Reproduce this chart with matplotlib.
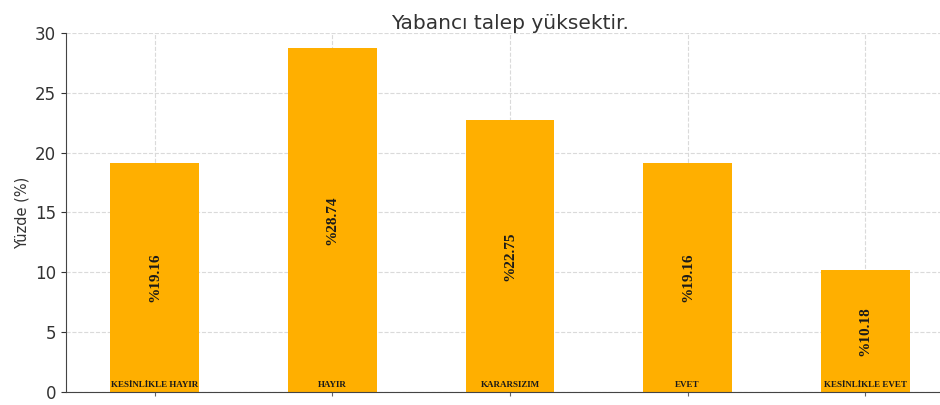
import matplotlib.pyplot as plt

# Survey answers and their shares
categories = ['KESİNLİKLE HAYIR', 'HAYIR', 'KARARSIZIM', 'EVET', 'KESİNLİKLE EVET']
percentages = [19.16, 28.74, 22.75, 19.16, 10.18]

fig = plt.figure(figsize=(9.4, 4.05), dpi=100)
ax = fig.add_axes([0.070, 0.032, 0.945, 0.887])

positions = list(range(len(categories)))
bars = ax.bar(positions, percentages, width=0.5, color='#FFAF00', zorder=2)

# value labels in the middle of each bar, category names at the bottom
for p, val, cat in zip(positions, percentages, categories):
    ax.text(p, val / 2, '%' + f'{val:.2f}', rotation=90, ha='center', va='center',
            fontsize=11, fontweight='bold', family='Liberation Serif', color='#1a1a1a', zorder=3)
    ax.text(p, 0.25, cat, ha='center', va='bottom', fontsize=6.5,
            fontweight='heavy', family='Liberation Serif', color='#1a1a1a', zorder=3)

ax.set_xlim(-0.5, 4.5)
ax.set_ylim(0, 30)
ax.set_xticks(positions)
ax.set_xticklabels([])
ax.set_yticks([0, 5, 10, 15, 20, 25, 30])
ax.tick_params(axis='y', labelsize=12, colors='#333333')
ax.tick_params(axis='x', length=3, colors='#666666')
ax.set_ylabel('Yüzde (%)', fontsize=10.5, color='#333333')
ax.set_title('Yabancı talep yüksektir.', fontsize=14.5, color='#333333', pad=3)

ax.grid(True, linestyle='--', color='#dadada', linewidth=0.8, zorder=0)
ax.spines['top'].set_visible(False)
ax.spines['right'].set_visible(False)
ax.spines['left'].set_color('#444444')
ax.spines['bottom'].set_color('#444444')

plt.savefig('out.png', dpi=100)
